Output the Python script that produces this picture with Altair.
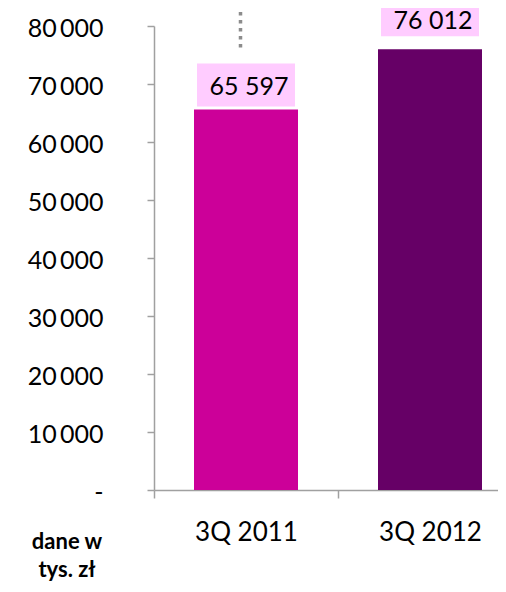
import altair as alt
import pandas as pd

periods = ["3Q 2011", "3Q 2012"]
values = [65597, 76012]
bar_colors = ["#CC0099", "#660066"]
y_ticks = [0, 10000, 20000, 30000, 40000, 50000, 60000, 70000, 80000]
note_lines = ["dane w", "tys. zł"]

df = pd.DataFrame({"period": periods, "value": values})

FONT = "Lato"
AX = "#A0A0A0"

x_enc = alt.X(
    "period:N",
    sort=periods,
    scale=alt.Scale(domain=periods, range=[0, 368], paddingInner=0, paddingOuter=0),
    axis=alt.Axis(
        title=None, labelAngle=0, labelFont=FONT, labelFontSize=26, labelColor="#000000",
        labelPadding=21, tickSize=8, tickBand="extent", tickColor=AX, tickWidth=1.5,
        domainColor=AX, domainWidth=1.5, grid=False,
    ),
)
y_enc = alt.Y(
    "value:Q",
    scale=alt.Scale(domain=[0, 80000], nice=False, zero=True),
    axis=alt.Axis(
        title=None, values=y_ticks, labelFont=FONT, labelFontSize=25, labelColor="#000000",
        labelPadding=44, tickSize=7, tickColor=AX, tickWidth=1.5, domainColor=AX,
        domainWidth=1.5, grid=False, labelOffset=2,
        labelExpr="datum.value == 0 ? '-\u2002' : replace(format(datum.value, ','), ',', '\u2009')",
    ),
)

base = alt.Chart(df)

bars = base.mark_bar(size=104).encode(
    x=x_enc,
    y=y_enc,
    color=alt.Color("period:N", scale=alt.Scale(domain=periods, range=bar_colors), legend=None),
)

# label box offsets (pixels above each bar top): box top, box bottom, text dy
offsets = {"3Q 2011": (-46, -3, -23), "3Q 2012": (-56, -13, -28)}

layers = [bars]
for p in periods:
    top, bottom, tdy = offsets[p]
    sub = base.transform_filter(alt.datum.period == p)
    box = sub.mark_bar(size=98, color="#FFCCFF", yOffset=top, y2Offset=bottom).encode(
        x=x_enc, y=y_enc, y2=alt.Y2("value:Q")
    )
    txt = sub.transform_calculate(
        lbl="replace(format(datum.value, ','), ',', ' ')"
    ).mark_text(font=FONT, fontSize=25, color="#000000", baseline="middle", dy=tdy, dx=3).encode(
        x=x_enc, y=y_enc, text="lbl:N"
    )
    layers += [box, txt]

one = alt.Chart(alt.InlineData(values=[{"a": 1}]))
rule = one.mark_rule(color="#8C8C8C", strokeWidth=3.5, strokeDash=[3.5, 4.5]).encode(
    x=alt.value(86.5), y=alt.value(-30), y2=alt.value(24)
)
note = one.mark_text(
    font=FONT, fontSize=22, fontWeight="bold", color="#000000", align="center",
    baseline="alphabetic", lineHeight=28,
).encode(x=alt.value(-87), y=alt.value(523), text=alt.value(note_lines))

chart = alt.layer(*layers, rule, note).properties(
    width=344, height=464,
    autosize=alt.AutoSizeParams(type="none"),
    padding={"left": 146, "top": 18, "right": 0, "bottom": 94},
).configure_view(stroke=None)

chart.save("out.html", embed_options={"renderer": "svg", "actions": False})
